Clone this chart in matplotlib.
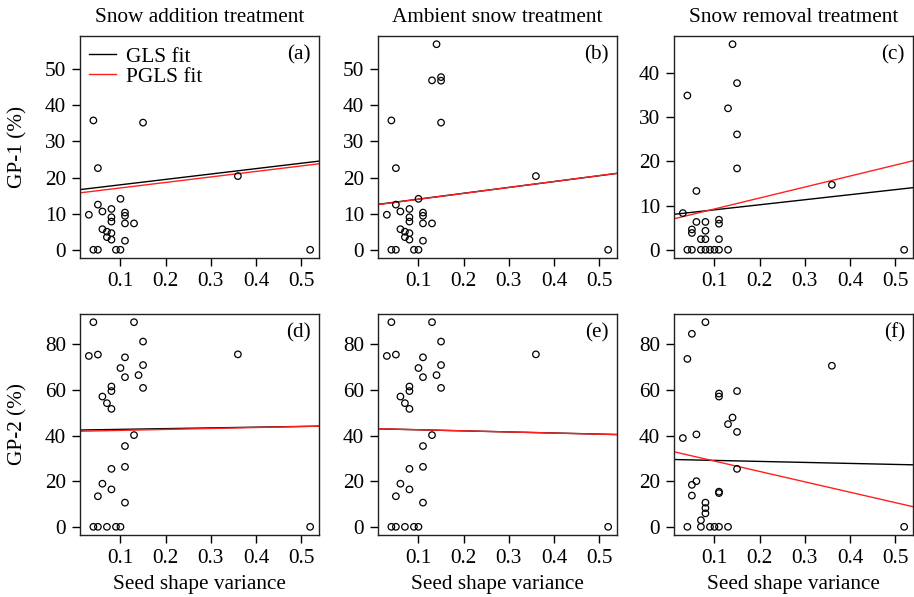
import numpy as np
import matplotlib
matplotlib.use("Agg")
import matplotlib.pyplot as plt

plt.rcParams['font.family'] = ['Liberation Serif', 'DejaVu Serif']

titles = ["Snow addition treatment", "Ambient snow treatment", "Snow removal treatment"]
ylabels = ["GP-1 (%)", "GP-2 (%)"]
letters = ["(a)", "(b)", "(c)", "(d)", "(e)", "(f)"]

# GP-1, snow addition
xa = [0.04, 0.15, 0.05, 0.36, 0.10, 0.05, 0.08, 0.06, 0.03, 0.11, 0.11, 0.08, 0.08,
      0.11, 0.13, 0.06, 0.07, 0.08, 0.07, 0.08, 0.11, 0.04, 0.05, 0.09, 0.10, 0.52]
ya = [35.8, 35.2, 22.6, 20.4, 14.1, 12.5, 11.3, 10.6, 9.7, 10.3, 9.4, 9.0, 7.8,
      7.3, 7.3, 5.7, 5.0, 4.6, 3.5, 2.8, 2.5, 0, 0, 0, 0, 0]
# GP-1, ambient
xb = xa + [0.14, 0.13, 0.15, 0.15]
yb = ya + [56.9, 46.9, 47.8, 46.8]
# GP-1, snow removal
xc = [0.14, 0.15, 0.04, 0.13, 0.15, 0.15, 0.36, 0.06, 0.03, 0.11, 0.11, 0.06, 0.08, 0.05,
      0.05, 0.08, 0.07, 0.08, 0.11, 0.04, 0.05, 0.07, 0.08, 0.09, 0.10, 0.11, 0.13, 0.52]
yc = [46.5, 37.7, 34.9, 32.0, 26.1, 18.4, 14.7, 13.3, 8.3, 6.8, 5.9, 6.3, 6.3, 4.6,
      3.8, 4.3, 2.4, 2.4, 2.4, 0, 0, 0, 0, 0, 0, 0, 0, 0]
# GP-2, snow addition and ambient
xd = [0.04, 0.13, 0.03, 0.05, 0.11, 0.15, 0.10, 0.15, 0.11, 0.14, 0.15, 0.08, 0.08, 0.06,
      0.07, 0.08, 0.36, 0.13, 0.11, 0.11, 0.08, 0.06, 0.08, 0.05, 0.11,
      0.04, 0.05, 0.07, 0.09, 0.10, 0.52]
yd = [89.7, 89.7, 74.9, 75.5, 74.3, 81.2, 69.6, 70.9, 65.6, 66.5, 60.9, 61.5, 59.5, 57.1,
      54.2, 51.7, 75.6, 40.2, 35.4, 26.3, 25.4, 18.9, 16.4, 13.4, 10.6,
      0, 0, 0, 0, 0, 0]
xe = list(xd)
ye = list(yd)
# GP-2, snow removal
xf = [0.08, 0.05, 0.04, 0.36, 0.15, 0.11, 0.11, 0.14, 0.13, 0.15, 0.06, 0.03, 0.15, 0.06,
      0.05, 0.05, 0.11, 0.11, 0.08, 0.08, 0.08, 0.07, 0.04, 0.07, 0.09, 0.10, 0.11, 0.13, 0.52]
yf = [89.7, 84.6, 73.6, 70.6, 59.5, 58.4, 57.1, 47.9, 45.0, 41.6, 40.5, 38.9, 25.4, 20.0,
      18.4, 13.7, 15.4, 14.8, 10.6, 8.2, 5.9, 2.9, 0, 0, 0, 0, 0, 0, 0]

# fitted lines: intercept, slope
gls = [(16.5, 14.9), (12.4, 16.2), (7.9, 11.4), (42.4, 3.2), (43.0, -4.7), (29.55, -4.4)]
pgls = [(15.6, 15.2), (12.33, 16.4), (6.75, 24.8), (41.85, 4.2), (43.05, -4.9), (33.37, -45.5)]

xs = [xa, xb, xc, xd, xe, xf]
ys = [ya, yb, yc, yd, ye, yf]
ymax = [max(yb), max(yb), max(yc), max(yd), max(yd), max(yf)]
yticks = [np.arange(0, 51, 10), np.arange(0, 51, 10), np.arange(0, 41, 10),
          np.arange(0, 81, 20), np.arange(0, 81, 20), np.arange(0, 81, 20)]

W, H = 914, 597
fig = plt.figure(figsize=(W / 100, H / 100), dpi=100)
lefts = [80, 378, 674]
tops = [36, 314]
bots = [258, 535]
aw = 239

fs = 15.3
xmin, xmax = 0.03, 0.52
pad = 0.04 * (xmax - xmin)
xlim = (xmin - pad, xmax + pad)

for i in range(6):
    r, c = divmod(i, 3)
    ax = fig.add_axes([lefts[c] / W, 1 - bots[r] / H, aw / W, (bots[r] - tops[r]) / H])
    ax.scatter(xs[i], ys[i], s=22, facecolors='none', edgecolors='black', linewidths=0.9, zorder=3)
    xx = np.array(xlim)
    a, b = gls[i]
    ax.plot(xx, a + b * xx, color='black', lw=1.0, label='GLS fit', zorder=2)
    a, b = pgls[i]
    ax.plot(xx, a + b * xx, color='#ff2020', lw=1.0, label='PGLS fit', zorder=2)
    ax.set_xlim(xlim)
    yp = 0.04 * ymax[i]
    ax.set_ylim(-yp, ymax[i] + yp)
    ax.set_xticks([0.1, 0.2, 0.3, 0.4, 0.5])
    ax.set_xticklabels(['0.1', '0.2', '0.3', '0.4', '0.5'])
    ax.set_yticks(yticks[i])
    ax.tick_params(direction='out', length=6, width=1, labelsize=fs, pad=4)
    for sp in ax.spines.values():
        sp.set_linewidth(1.0)
        sp.set_color('#222222')
    ax.text(1 - 8 / aw, 1 - 19 / 222, letters[i], transform=ax.transAxes,
            ha='right', va='center', fontsize=fs)
    if r == 0:
        fig.text((lefts[c] + aw / 2) / W, 1 - 17 / H, titles[c], ha='center', va='center', fontsize=fs)
    else:
        fig.text((lefts[c] + aw / 2) / W, 1 - 585 / H, "Seed shape variance", ha='center',
                 va='center', fontsize=fs)
    if c == 0:
        fig.text(18 / W, 1 - (tops[r] + bots[r]) / 2 / H, ylabels[r], rotation=90,
                 ha='center', va='center', fontsize=fs)
    if i == 0:
        ax.legend(loc='upper left', bbox_to_anchor=(9 / aw, 1 - 11 / 222), frameon=False,
                  fontsize=fs, handlelength=1.25, handletextpad=0.5, labelspacing=0.0,
                  borderpad=0, borderaxespad=0)

fig.savefig("out.png", dpi=100)
